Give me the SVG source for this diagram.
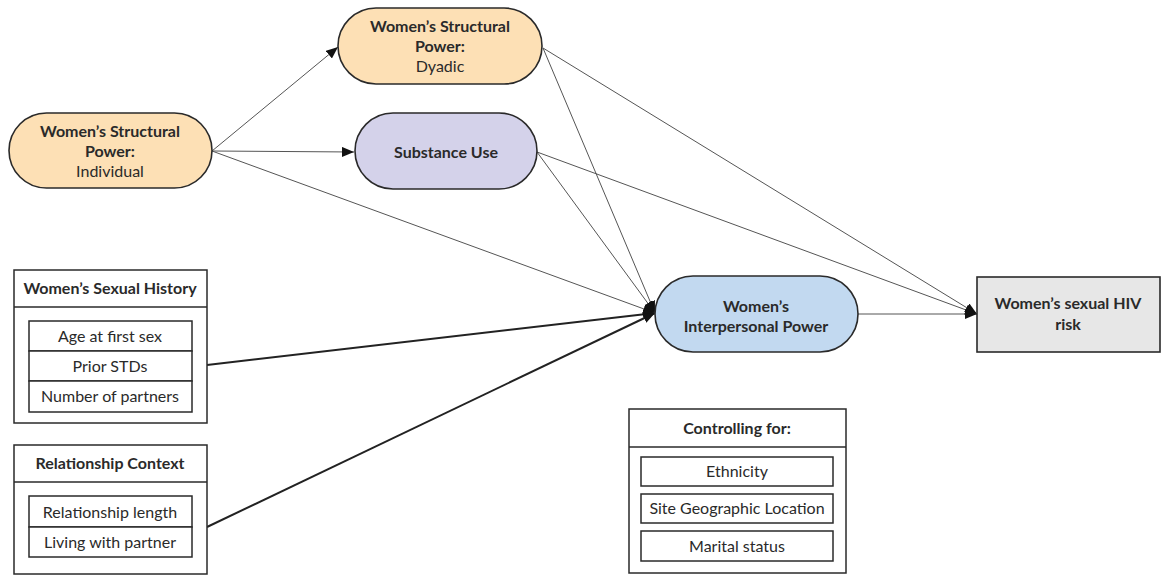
<svg xmlns="http://www.w3.org/2000/svg" width="1163" height="576" viewBox="0 0 1163 576">
<defs>
<style>
.n{stroke:#2a2a2a;stroke-width:1.6}
.t{font-family:Lato,"Liberation Sans",sans-serif;font-size:16px;fill:#2a2a2a;text-anchor:middle}
.b{font-weight:bold}
.box{fill:#fff;stroke:#2a2a2a;stroke-width:1.5}
.e{fill:none;stroke:#555;stroke-width:1}
.k{fill:none;stroke:#222;stroke-width:2}
</style>
<marker id="ah" markerUnits="userSpaceOnUse" markerWidth="14" markerHeight="10" refX="12" refY="5" orient="auto">
<path d="M0,0 L12,5 L0,10 Z" fill="#111"/>
</marker>
</defs>
<rect width="1163" height="576" fill="#fff"/>
<g id="connectors">
<line class="e" x1="212" y1="151" x2="338" y2="47" marker-end="url(#ah)"/>
<line class="e" x1="212" y1="151" x2="354" y2="152" marker-end="url(#ah)"/>
<line class="e" x1="212" y1="151" x2="655" y2="313" marker-end="url(#ah)"/>
<line class="e" x1="543" y1="48" x2="655" y2="313" marker-end="url(#ah)"/>
<line class="e" x1="543" y1="48" x2="977" y2="314" marker-end="url(#ah)"/>
<line class="e" x1="537" y1="152" x2="655" y2="313" marker-end="url(#ah)"/>
<line class="e" x1="537" y1="152" x2="977" y2="314" marker-end="url(#ah)"/>
<line class="k" x1="207" y1="365" x2="655" y2="313" marker-end="url(#ah)"/>
<line class="k" x1="207" y1="527" x2="655" y2="313" marker-end="url(#ah)"/>
<line class="e" x1="858" y1="314" x2="977" y2="314" marker-end="url(#ah)"/>
</g>
<g id="individual">
<rect class="n" x="9" y="113" width="203" height="75" rx="37.5" fill="#fde0b5"/>
<text class="t b" x="110" y="137">Women’s Structural</text>
<text class="t b" x="110" y="157">Power:</text>
<text class="t" x="110" y="177">Individual</text>
</g>
<g id="dyadic">
<rect class="n" x="338" y="8" width="204" height="76" rx="38" fill="#fde0b5"/>
<text class="t b" x="440" y="32">Women’s Structural</text>
<text class="t b" x="440" y="52">Power:</text>
<text class="t" x="440" y="72">Dyadic</text>
</g>
<g id="substance">
<rect class="n" x="355" y="113" width="182" height="76" rx="38" fill="#d4d2ea"/>
<text class="t b" x="446" y="158">Substance Use</text>
</g>
<g id="interpersonal">
<rect class="n" x="655" y="276" width="203" height="76" rx="38" fill="#c2d9f0"/>
<text class="t b" x="756" y="312">Women’s</text>
<text class="t b" x="756" y="332">Interpersonal Power</text>
</g>
<g id="hivrisk">
<rect class="n" x="977" y="277" width="183" height="75" fill="#e7e7e7"/>
<text class="t b" x="1068" y="309">Women’s sexual HIV</text>
<text class="t b" x="1068" y="330">risk</text>
</g>
<g id="sexualhistory">
<rect class="box" x="14" y="270" width="193" height="153"/>
<line class="box" x1="14" y1="307" x2="207" y2="307"/>
<text class="t b" x="110" y="294">Women’s Sexual History</text>
<rect class="box" x="29" y="321" width="163" height="30"/>
<rect class="box" x="29" y="351" width="163" height="30"/>
<rect class="box" x="29" y="381" width="163" height="31"/>
<text class="t" x="110" y="342">Age at first sex</text>
<text class="t" x="110" y="372">Prior STDs</text>
<text class="t" x="110" y="402">Number of partners</text>
</g>
<g id="relationship">
<rect class="box" x="14" y="445" width="193" height="129"/>
<line class="box" x1="14" y1="482" x2="207" y2="482"/>
<text class="t b" x="110" y="469">Relationship Context</text>
<rect class="box" x="29" y="496" width="163" height="31"/>
<rect class="box" x="29" y="527" width="163" height="30"/>
<text class="t" x="110" y="518">Relationship length</text>
<text class="t" x="110" y="548">Living with partner</text>
</g>
<g id="controlling">
<rect class="box" x="629" y="409" width="217" height="164"/>
<line class="box" x1="629" y1="447" x2="846" y2="447"/>
<text class="t b" x="737" y="434">Controlling for:</text>
<rect class="box" x="641" y="457" width="192" height="29"/>
<rect class="box" x="641" y="494" width="192" height="29"/>
<rect class="box" x="641" y="531" width="192" height="30"/>
<text class="t" x="737" y="477">Ethnicity</text>
<text class="t" x="737" y="514">Site Geographic Location</text>
<text class="t" x="737" y="552">Marital status</text>
</g>
</svg>
